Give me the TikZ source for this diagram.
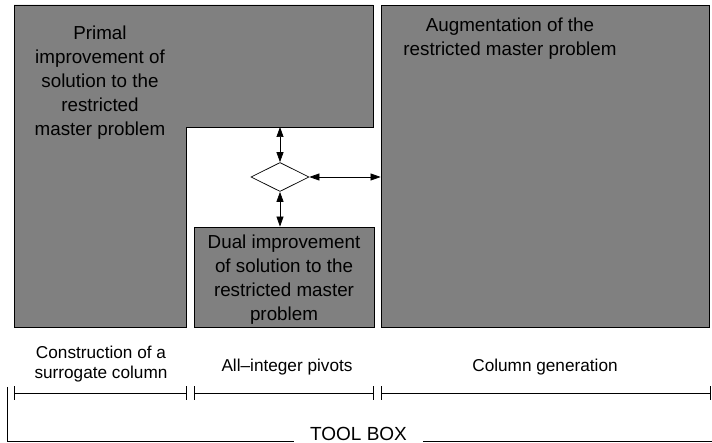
\documentclass[tikz,border=0pt]{standalone}
\usepackage{fontspec}
\setmainfont{Liberation Sans}
\usetikzlibrary{arrows.meta,shapes.geometric}
\begin{document}
\begin{tikzpicture}[x=1pt,y=-1pt,
  block/.style={draw=black,fill=gray,line width=0.8pt},
  boxtext/.style={anchor=north,inner sep=0pt,align=center,font=\fontsize{18.8}{24}\selectfont},
  labtext/.style={inner sep=0pt,align=center,font=\fontsize{17.2}{20.6}\selectfont},
  dbl/.style={{Triangle[length=10pt,width=7pt]}-{Triangle[length=10pt,width=7pt]},line width=0.7pt},
  span/.style={{Bar[width=13pt]}-{Bar[width=13pt]},line width=0.8pt},
  frame/.style={line width=0.8pt}
]
\useasboundingbox (0,0) rectangle (712,443);
% primal L-shaped block
\draw[block] (14,5) -- (373,5) -- (373,127) -- (186,127) -- (186,327) -- (14,327) -- cycle;
\coordinate (pstep) at (280,127);
\node[boxtext] (primal) at (100,26) {Primal\\improvement of\\solution to the\\restricted\\master problem};
% right block
\node[block,minimum width=328pt,minimum height=322pt,inner sep=0pt] (aug) at (545,166) {};
\node[boxtext] (augtext) at (510,18) {Augmentation of the\\restricted master problem};
% dual block
\node[block,minimum width=180pt,minimum height=100pt,inner sep=0pt] (dual) at (284,277) {};
\node[boxtext] (dualtext) at (284,235) {Dual improvement\\of solution to the\\restricted master\\problem};
% diamond
\node[draw=black,fill=white,shape=diamond,aspect=2,minimum width=58pt,minimum height=29pt,inner sep=0pt,line width=0.7pt] (dia) at (280,177) {};
% connectors
\draw[dbl] (pstep) -- (dia.north);
\draw[dbl] (dia.south) -- (dual.north -| dia.south);
\draw[dbl] (dia.east) -- (aug.west |- dia.east);
% bottom labels
\node[labtext,anchor=north] (l1) at (101,345.4) {Construction of a\\surrogate column};
\node[labtext,anchor=base] (l2) at (287,371) {All–integer pivots};
\node[labtext,anchor=base] (l3) at (545,371) {Column generation};
% spans
\coordinate (s1a) at (14,393); \coordinate (s1b) at (187,393);
\coordinate (s2a) at (194,393); \coordinate (s2b) at (374,393);
\coordinate (s3a) at (381,393); \coordinate (s3b) at (711,393);
\draw[span] (s1a) -- (s1b);
\draw[span] (s2a) -- (s2b);
\draw[span] (s3a) -- (s3b);
% tool box frame
\node[inner sep=0pt,anchor=base,font=\fontsize{19}{22}\selectfont] (tb) at (358.5,440.5) {TOOL BOX};
\coordinate (ftop) at (7,387);
\coordinate (fcorner) at (7,441);
\coordinate (fend) at (712,441);
\draw[frame] (ftop) -- (fcorner) -- (294,441);
\draw[frame] (423,441) -- (fend);
\end{tikzpicture}
\end{document}
